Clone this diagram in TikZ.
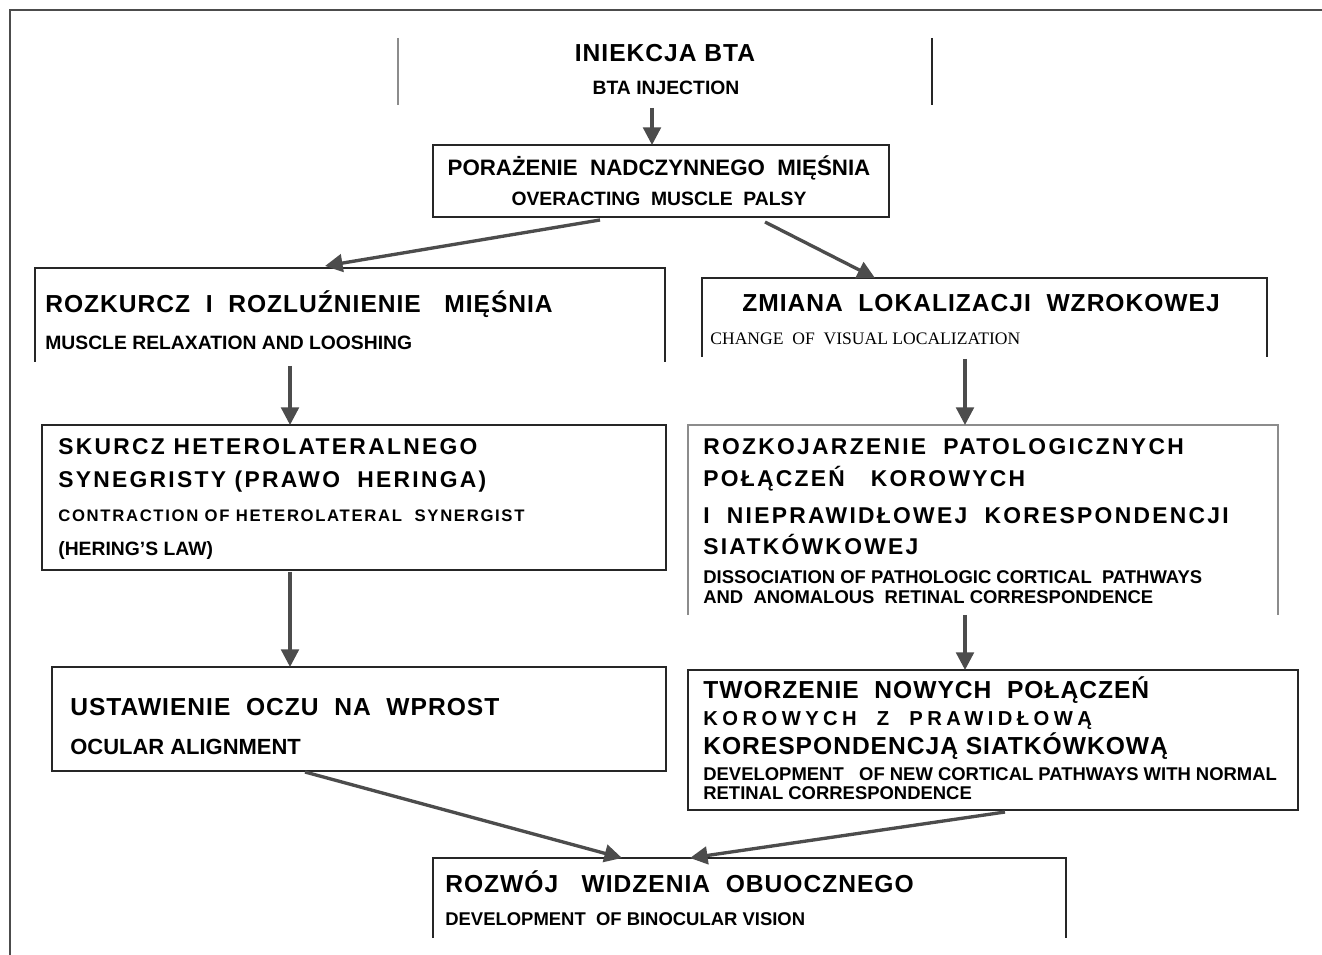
\documentclass[tikz,border=0pt]{standalone}
\usepackage{fontspec}
\setmainfont{Liberation Sans}
\newfontfamily\rozstrz[LetterSpace=10]{Liberation Sans}
\newfontfamily\rozstrzB[LetterSpace=22]{Liberation Sans}
\newfontfamily\lekko[LetterSpace=4]{Liberation Sans}
\newfontfamily\szeryf{Liberation Serif}
\usetikzlibrary{arrows.meta,calc,fit}

\begin{document}
\begin{tikzpicture}[
		x=0.02cm, y=-0.02cm,
		pole/.style={inner sep=0pt, outer sep=0pt},
		bok/.style={line width=1.1pt, black!85},
		bokJ/.style={line width=0.8pt, black!45},
		strzalka/.style={-{Triangle[length=10pt,width=10pt]},
			line width=1.9pt, black!70},
		napis/.style={inner sep=0pt, anchor=base west},
		tytul/.style={napis, font=\fontsize{14}{16}\lekko\bfseries},
		tytulR/.style={napis, font=\fontsize{13}{15}\rozstrz\bfseries},
		podpis/.style={napis, font=\fontsize{11}{13}\selectfont\bfseries},
		drobny/.style={napis, font=\fontsize{10.5}{12}\selectfont\bfseries}]
	
	\useasboundingbox (0,0) rectangle (1322,955);
	
	%% ramka zewnetrzna
	\draw[line width=0.8pt, black!70] (1322,10) -- (10,10) -- (10,955);
	
	%% pola (ramki)
	\node[pole, fit={(398,38) (932,105)}] (iniekcja) {};
	\node[pole, fit={(433,145) (889,217)}] (porazenie) {};
	\node[pole, fit={(35,268) (665,362)}] (rozkurcz) {};
	\node[pole, fit={(702,278) (1267,357)}] (zmiana) {};
	\node[pole, fit={(42,425) (666,570)}] (skurcz) {};
	\node[pole, fit={(688,425) (1278,615)}] (rozkojarzenie) {};
	\node[pole, fit={(52,667) (666,771)}] (ustawienie) {};
	\node[pole, fit={(688,670) (1298,810)}] (tworzenie) {};
	\node[pole, fit={(433,858) (1066,938)}] (rozwoj) {};
	
	%% boki otwartych ramek
	\draw[bokJ] (iniekcja.north west) -- (iniekcja.south west);
	\draw[bok] (iniekcja.north east) -- (iniekcja.south east);
	\draw[bok] (rozkurcz.south west) -- (rozkurcz.north west)
		-- (rozkurcz.north east) -- (rozkurcz.south east);
	\draw[bok] (zmiana.south west) -- (zmiana.north west)
		-- (zmiana.north east) -- (zmiana.south east);
	\draw[bokJ] (rozkojarzenie.south west) -- (rozkojarzenie.north west)
		-- (rozkojarzenie.north east) -- (rozkojarzenie.south east);
	\draw[bok] (rozwoj.south west) -- (rozwoj.north west)
		-- (rozwoj.north east) -- (rozwoj.south east);
	
	%% ramki zamkniete
	\draw[bok] (porazenie.north west) rectangle (porazenie.south east);
	\draw[bok] (skurcz.north west) rectangle (skurcz.south east);
	\draw[bok] (ustawienie.north west) rectangle (ustawienie.south east);
	\draw[bok] (tworzenie.north west) rectangle (tworzenie.south east);
	
	%% teksty
	\node[tytul, anchor=base] (t1a) at (665,62) {INIEKCJA BTA};
	\node[podpis, anchor=base] (t1b) at (666,95) {BTA INJECTION};
	
	\node[tytul, anchor=base, font=\fontsize{12.7}{15}\selectfont\bfseries]
		(t2a) at (659,176) {PORAŻENIE\ \ NADCZYNNEGO\ \ MIĘŚNIA};
	\node[podpis, anchor=base] (t2b) at (659,206) {OVERACTING\ \ MUSCLE\ \ PALSY};
	
	\node[tytul] (t3a) at (45,313) {ROZKURCZ\ \ I\ \ ROZLUŹNIENIE\ \ \ MIĘŚNIA};
	\node[podpis] (t3b) at (45,350) {MUSCLE RELAXATION AND LOOSHING};
	
	\node[tytul, anchor=base] (t4a) at (981,312) {ZMIANA\ \ LOKALIZACJI\ \ WZROKOWEJ};
	\node[napis, font=\fontsize{10}{12}\szeryf] (t4b) at (710,345)
		{CHANGE\ \ OF\ \ VISUAL LOCALIZATION};
	
	\node[tytulR] (t5a) at (58,455) {SKURCZ HETEROLATERALNEGO};
	\node[tytulR] (t5b) at (58,488) {SYNEGRISTY (PRAWO\ \ HERINGA)};
	\node[napis, font=\fontsize{9.5}{11}\rozstrz\bfseries] (t5c) at (58,522)
		{CONTRACTION OF HETEROLATERAL\ \ SYNERGIST};
	\node[podpis] (t5d) at (58,556) {(HERING'S LAW)};
	
	\node[tytulR] (t6a) at (703,455) {ROZKOJARZENIE\ \ PATOLOGICZNYCH};
	\node[tytulR] (t6b) at (703,487) {POŁĄCZEŃ\ \ \ KOROWYCH};
	\node[tytulR] (t6c) at (703,524) {I\ \ NIEPRAWIDŁOWEJ\ \ KORESPONDENCJI};
	\node[tytulR] (t6d) at (703,555) {SIATKÓWKOWEJ};
	\node[drobny] (t6e) at (703,584) {DISSOCIATION OF PATHOLOGIC CORTICAL\ \ PATHWAYS};
	\node[drobny] (t6f) at (703,604) {AND\ \ ANOMALOUS\ \ RETINAL CORRESPONDENCE};
	
	\node[tytul] (t7a) at (70,716) {USTAWIENIE\ \ OCZU\ \ NA\ \ WPROST};
	\node[napis, font=\fontsize{12.5}{14}\selectfont\bfseries] (t7b) at (70,754)
		{OCULAR ALIGNMENT};
	
	\node[tytul] (t8a) at (703,699) {TWORZENIE\ \ NOWYCH\ \ POŁĄCZEŃ};
	\node[napis, font=\fontsize{11.5}{13}\rozstrzB\bfseries] (t8b) at (703,725)
		{KOROWYCH\ \ Z\ \ PRAWIDŁOWĄ};
	\node[tytul] (t8c) at (703,754) {KORESPONDENCJĄ SIATKÓWKOWĄ};
	\node[drobny] (t8d) at (703,781) {DEVELOPMENT\ \ \ OF NEW CORTICAL PATHWAYS WITH NORMAL};
	\node[drobny] (t8e) at (703,799) {RETINAL CORRESPONDENCE};
	
	\node[tytul] (t9a) at (445,892) {ROZWÓJ\ \ \ WIDZENIA\ \ OBUOCZNEGO};
	\node[drobny] (t9b) at (445,925) {DEVELOPMENT\ \ OF BINOCULAR VISION};
	
	%% strzalki
	\draw[strzalka] ($(iniekcja.south)+(-13,3)$) -- ($(porazenie.north)+(-9,0)$);
	\draw[strzalka] ($(porazenie.south west)+(167,3)$) -- ($(rozkurcz.north west)+(290,-2)$);
	\draw[strzalka] ($(porazenie.south west)+(332,5)$) -- ($(zmiana.north west)+(173,0)$);
	\draw[strzalka] ($(rozkurcz.south west)+(255,4)$) -- ($(skurcz.north west)+(248,0)$);
	\draw[strzalka] ($(zmiana.south west)+(263,2)$) -- ($(rozkojarzenie.north west)+(277,0)$);
	\draw[strzalka] ($(skurcz.south west)+(248,2)$) -- ($(ustawienie.north west)+(238,0)$);
	\draw[strzalka] ($(rozkojarzenie.south west)+(277,0)$) -- ($(tworzenie.north west)+(277,0)$);
	\draw[strzalka] ($(ustawienie.south west)+(253,1)$) -- ($(rozwoj.north west)+(189,0)$);
	\draw[strzalka] ($(tworzenie.south west)+(317,2)$) -- ($(rozwoj.north west)+(257,0)$);
	
\end{tikzpicture}
\end{document}
